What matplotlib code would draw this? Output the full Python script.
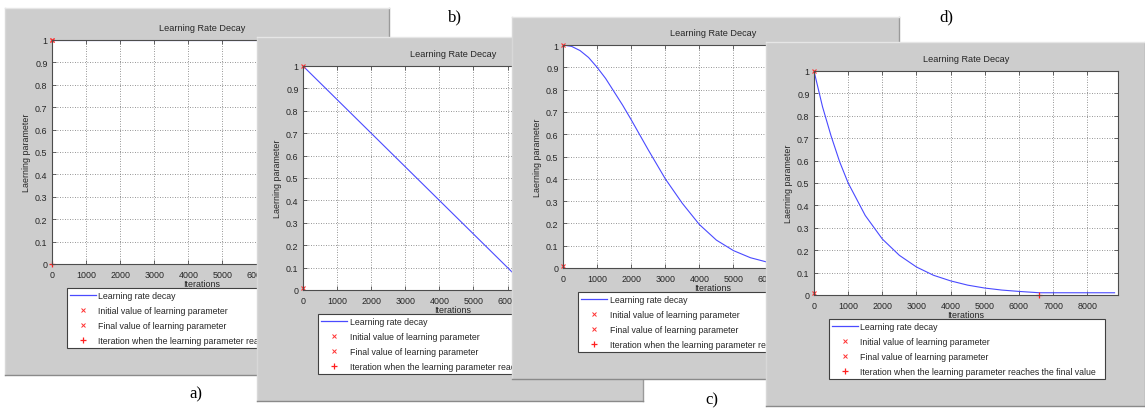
import matplotlib
matplotlib.use("Agg")
import matplotlib.pyplot as plt
from matplotlib.lines import Line2D
from matplotlib.ticker import FormatStrFormatter

plt.rcParams['font.family'] = ['Liberation Sans', 'DejaVu Sans']

W, H = 1145, 410

# learning rate curves
iters_a = [0, 8800]
lr_a = [1.0, 1.0]

iters_b = [0, 1000, 2000, 3000, 4000, 5000, 6000, 6600, 8800]
lr_b = [1.0, 0.85, 0.70, 0.55, 0.40, 0.25, 0.10, 0.01, 0.01]

iters_c = [0, 250, 500, 750, 1000, 1250, 1500, 1750, 2000, 2500, 3000, 3500, 4000,
           4500, 5000, 5500, 6000, 6500, 6600, 8800]
lr_c = [1.0, 0.994, 0.975, 0.944, 0.90, 0.85, 0.79, 0.73, 0.665, 0.53, 0.40, 0.29, 0.195,
        0.125, 0.078, 0.046, 0.026, 0.013, 0.011, 0.01]

iters_d = [0, 250, 500, 750, 1000, 1500, 2000, 2500, 3000, 3500, 4000, 4500, 5000, 5500, 6000, 6600, 8800]
lr_d = [1.0, 0.84, 0.71, 0.595, 0.5, 0.355, 0.25, 0.177, 0.125, 0.088, 0.063, 0.044, 0.031, 0.022, 0.016, 0.01, 0.01]

# initial value, final value, iteration where final value is reached
init_vals = [1.0, 1.0, 1.0, 1.0]
final_vals = [1.0, 0.01, 0.01, 0.01]
reach_iters = [0, 6600, 6600, 6600]

legend_labels = ["Learning rate decay",
                 "Initial value of learning parameter",
                 "Final value of learning parameter",
                 "Iteration when the learning parameter reaches the final value"]
panel_names = ["a)", "b)", "c)", "d)"]

# pixel boxes (x0, y0, x1, y1)
windows = [(5, 9, 389, 376), (257, 38, 643, 402), (512, 18, 899, 380), (766, 43, 1145, 407)]
axboxes = [(52, 41, 352, 265), (303, 67, 603, 291), (563, 46, 863, 269), (814, 72, 1118, 296)]
xmaxes = [8800, 8800, 8800, 8900]
name_pos = [(196, 394), (455, 17), (712, 400), (946, 17)]


def frac(box):
    x0, y0, x1, y1 = box
    return [x0 / W, 1 - y1 / H, (x1 - x0) / W, (y1 - y0) / H]


fig = plt.figure(figsize=(W / 100, H / 100), dpi=100)
fig.patch.set_facecolor("white")

curves = [(iters_a, lr_a), (iters_b, lr_b), (iters_c, lr_c), (iters_d, lr_d)]
txt = "0.15"

for i in range(4):
    # grey figure window
    win = fig.add_axes(frac(windows[i]), zorder=2 * i + 1)
    win.set_facecolor("#cdcdcd")
    win.set_xticks([])
    win.set_yticks([])
    win.spines["top"].set_color("#e6e6e6")
    win.spines["left"].set_color("#d8d8d8")
    win.spines["right"].set_color("#9a9a9a")
    win.spines["bottom"].set_color("#8a8a8a")
    for s in win.spines.values():
        s.set_linewidth(1.0)

    ax = fig.add_axes(frac(axboxes[i]), zorder=2 * i + 2)
    ax.set_facecolor("white")
    x, y = curves[i]
    ax.plot(x, y, color="#4a4aff", lw=0.8)
    ax.plot([0], [init_vals[i]], "x", color="#ff3030", ms=3.5, mew=0.8, clip_on=False)
    ax.plot([0], [final_vals[i]], "x", color="#ff3030", ms=3.5, mew=0.8, clip_on=False)
    ax.plot([reach_iters[i]], [0], "+", color="#ff2020", ms=5, mew=0.9, clip_on=False)

    ax.set_xlim(0, xmaxes[i])
    ax.set_ylim(0, 1)
    ax.set_xticks(range(0, 9000, 1000))
    ax.set_yticks([k / 10 for k in range(11)])
    ax.yaxis.set_major_formatter(FormatStrFormatter("%g"))
    ax.tick_params(direction="in", length=3, width=0.6, labelsize=6.4,
                   top=True, right=True, colors="0.3", labelcolor=txt)
    ax.tick_params(axis="x", pad=4.2)
    ax.tick_params(axis="y", pad=3.2)
    if i < 3:
        # these labels sit under the next window anyway
        for lab in ax.get_xticklabels()[7:]:
            lab.set_visible(False)
    ax.grid(True, linestyle=(0, (1, 2)), color="0.45", lw=0.6)
    for s in ax.spines.values():
        s.set_color("0.3")
        s.set_linewidth(0.8)

    ax.set_title("Learning Rate Decay", fontsize=6.6, color=txt, pad=7)
    ax.set_xlabel("Iterations", fontsize=6.4, color=txt, labelpad=0)
    ax.set_ylabel("Laerning parameter", fontsize=6.4, color=txt, labelpad=3)

    handles = [Line2D([], [], color="#4a4aff", lw=0.9),
               Line2D([], [], ls="", marker="x", color="#ff3030", ms=3, mew=0.7),
               Line2D([], [], ls="", marker="x", color="#ff3030", ms=3, mew=0.7),
               Line2D([], [], ls="", marker="+", color="#ff2020", ms=4.5, mew=0.9)]
    wpx = axboxes[i][2] - axboxes[i][0]
    hpx = axboxes[i][3] - axboxes[i][1]
    top = -24 / hpx
    leg = ax.legend(handles, legend_labels, loc="upper left",
                    bbox_to_anchor=(15 / wpx, top - 0.3, 276 / wpx, 0.3),
                    mode="expand", borderaxespad=0, fontsize=6.3, frameon=True,
                    fancybox=False, framealpha=1, edgecolor="0.25",
                    borderpad=0.3, labelspacing=0.7, handlelength=3.0,
                    handletextpad=0.3)
    leg.get_frame().set_linewidth(0.8)
    for t in leg.get_texts():
        t.set_color(txt)

for (px, py), name in zip(name_pos, panel_names):
    fig.text(px / W, 1 - py / H, name, fontsize=12, family="Liberation Serif",
             ha="center", va="center", color="black", zorder=20)

fig.savefig("out.png", dpi=100)
